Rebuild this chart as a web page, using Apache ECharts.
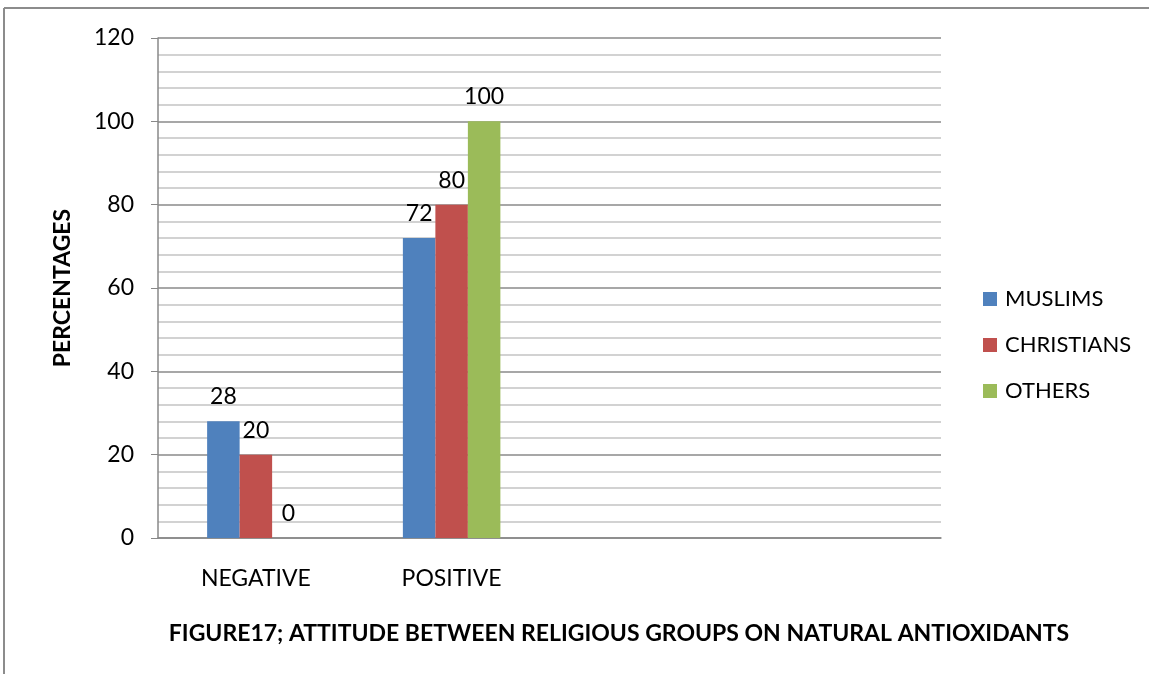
<!DOCTYPE html>
<html><head><meta charset="utf-8">
<script src="https://cdn.jsdelivr.net/npm/echarts@6/dist/echarts.min.js"></script>
<style>html,body{margin:0;padding:0;background:#fff}#c{width:1149px;height:674px}</style>
</head><body><div id="c"></div>
<script>
const categories = ['NEGATIVE', 'POSITIVE', '', ''];
const muslims = [28, 72, null, null];
const christians = [20, 80, null, null];
const others = [0, 100, null, null];
const seriesNames = ['MUSLIMS', 'CHRISTIANS', 'OTHERS'];
const colors = ['#4F81BD', '#C0504D', '#9BBB59'];
const FONT = 'Lato';

const chart = echarts.init(document.getElementById('c'));
const mk = (name, data, color) => ({
  name, type: 'bar', data, barWidth: 32.5, barGap: '0%',
  itemStyle: { color },
  label: { show: true, position: 'top', distance: 13, color: '#000', fontSize: 23, fontFamily: FONT }
});
chart.setOption({
  animation: false,
  textStyle: { fontFamily: FONT },
  graphic: [
    { type: 'line', shape: { x1: 4, y1: 8, x2: 1149, y2: 8 }, style: { stroke: '#8c8c8c', lineWidth: 2 } },
    { type: 'line', shape: { x1: 4, y1: 8, x2: 4, y2: 674 }, style: { stroke: '#8c8c8c', lineWidth: 2 } },
    { type: 'text', x: 619, y: 634, style: { text: 'FIGURE17; ATTITUDE BETWEEN RELIGIOUS GROUPS ON NATURAL ANTIOXIDANTS', font: 'bold 23px ' + FONT, fill: '#000', align: 'center', verticalAlign: 'middle' } }
  ],
  grid: { left: 158, right: 208, top: 38, bottom: 136 },
  legend: {
    orient: 'vertical', left: 978, top: 283, itemGap: 24, itemWidth: 14, itemHeight: 14,
    icon: 'rect', textStyle: { fontSize: 22, fontFamily: FONT, color: '#000', padding: [0, 0, 0, 3] },
    data: seriesNames
  },
  xAxis: {
    type: 'category', data: categories,
    axisLine: { lineStyle: { color: '#888', width: 1.5 } },
    axisTick: { show: false },
    axisLabel: { color: '#000', fontSize: 23, fontFamily: FONT, margin: 29, interval: 0 }
  },
  yAxis: {
    type: 'value', min: 0, max: 120, interval: 20,
    name: 'PERCENTAGES', nameLocation: 'middle', nameGap: 84, nameRotate: 90,
    nameTextStyle: { fontSize: 23, fontWeight: 'bold', color: '#000', fontFamily: FONT },
    axisLine: { show: true, lineStyle: { color: '#888', width: 1.5 } },
    axisTick: { show: true, length: 7, lineStyle: { color: '#888' } },
    axisLabel: { color: '#000', fontSize: 23, fontFamily: FONT, margin: 24 },
    splitLine: { lineStyle: { color: '#8a8a8a', width: 1.5 } },
    minorTick: { show: false, splitNumber: 5 },
    minorSplitLine: { show: true, lineStyle: { color: '#c4c4c4', width: 1.5 } }
  },
  series: [
    mk(seriesNames[0], muslims, colors[0]),
    mk(seriesNames[1], christians, colors[1]),
    mk(seriesNames[2], others, colors[2])
  ]
});
</script></body></html>
